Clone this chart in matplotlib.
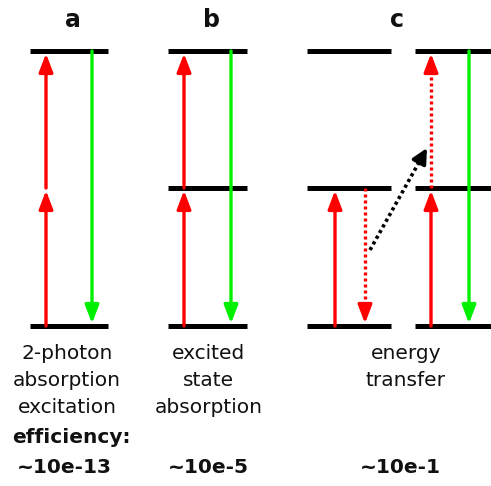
import matplotlib
matplotlib.use('Agg')
import matplotlib.pyplot as plt
import numpy as np
from matplotlib.patches import FancyArrowPatch

# ---- data ----
level_rows = [326, 188, 51]            # ground, intermediate, excited level rows
bar_x0 = [30, 168, 307, 415]
bar_x1 = [108, 247, 391, 495]
bar_levels = [[0, 2], [0, 1, 2], [0, 1, 2], [0, 1, 2]]

arrow_x = [46, 46, 92, 184, 184, 231, 335, 365, 431, 431, 469]
arrow_from = [0, 1, 2, 0, 1, 2, 0, 1, 0, 1, 2]
arrow_to = [1, 2, 0, 1, 2, 0, 1, 0, 1, 2, 0]
arrow_color = ['#ff0000', '#ff0000', '#00f000', '#ff0000', '#ff0000', '#00f000',
               '#ff0000', '#ff0000', '#ff0000', '#ff0000', '#00f000']
arrow_dotted = [False, False, False, False, False, False, False, True, False, True, False]

transfer_start = (370, 250)
transfer_end = (427, 148)

panel_labels = ['a', 'b', 'c']
panel_label_x = [73, 212, 397]

col_x = [67, 209, 406]
desc_lines = [['2-photon', 'absorption', 'excitation'],
              ['excited', 'state', 'absorption'],
              ['energy', 'transfer']]
desc_rows = [359, 386, 413]
eff_label = 'efficiency:'
eff_values = ['~10e-13', '~10e-5', '~10e-1']
eff_value_x = [64, 208, 400]

# ---- figure ----
W, H = 491, 486
fig = plt.figure(figsize=(W / 100, H / 100), dpi=100)
ax = fig.add_axes([0, 0, 1, 1])
ax.set_xlim(0, W)
ax.set_ylim(H, 0)
ax.axis('off')

DOTS = (0, (0.9, 0.9))


def arrow(p0, p1, color, dotted, lw, hl, hw, z):
    p0 = np.asarray(p0, float)
    p1 = np.asarray(p1, float)
    if not dotted:
        ax.add_patch(FancyArrowPatch(tuple(p0), tuple(p1),
                                     arrowstyle=f'-|>,head_length={hl},head_width={hw}',
                                     mutation_scale=1, color=color, lw=lw,
                                     shrinkA=0, shrinkB=0, zorder=z))
        return
    d = p1 - p0
    u = d / np.hypot(*d)
    hpx = hl * 100 / 72 + 1
    base = p1 - u * hpx
    ax.plot([p0[0], base[0] + u[0] * 2], [p0[1], base[1] + u[1] * 2], color=color, lw=lw,
            linestyle=DOTS, dash_capstyle='butt', zorder=z)
    ax.add_patch(FancyArrowPatch(tuple(base), tuple(p1),
                                 arrowstyle=f'-|>,head_length={hl},head_width={hw}',
                                 mutation_scale=1, color=color, lw=lw,
                                 shrinkA=0, shrinkB=0, zorder=z))


for x0, x1, lv in zip(bar_x0, bar_x1, bar_levels):
    for l in lv:
        ax.plot([x0, x1], [level_rows[l]] * 2, color='black', lw=3.6,
                solid_capstyle='butt', zorder=2)

for x, f, t, c, d in zip(arrow_x, arrow_from, arrow_to, arrow_color, arrow_dotted):
    y0 = level_rows[f]
    y1 = level_rows[t]
    sign = 1 if y1 > y0 else -1
    y1 = y1 - sign * 2.5
    arrow((x, y0), (x, y1), c, d, 2.4, 11, 4.2, 3)

arrow(transfer_start, transfer_end, 'black', True, 2.6, 9, 4.5, 4)

for lab, x in zip(panel_labels, panel_label_x):
    ax.text(x, 27, lab, ha='center', va='baseline', fontsize=17, fontweight='bold',
            family='DejaVu Sans', color='#111111')

for x, lines in zip(col_x, desc_lines):
    for s, y in zip(lines, desc_rows):
        ax.text(x, y, s, ha='center', va='baseline', fontsize=14.5,
                family='DejaVu Sans', color='#111111')

ax.text(71, 443, eff_label, ha='center', va='baseline', fontsize=14.5, fontweight='bold',
        family='DejaVu Sans', color='#111111')
for x, s in zip(eff_value_x, eff_values):
    ax.text(x, 473, s, ha='center', va='baseline', fontsize=14.5, fontweight='bold',
            family='DejaVu Sans', color='#111111')

fig.savefig('out.png', dpi=100)
